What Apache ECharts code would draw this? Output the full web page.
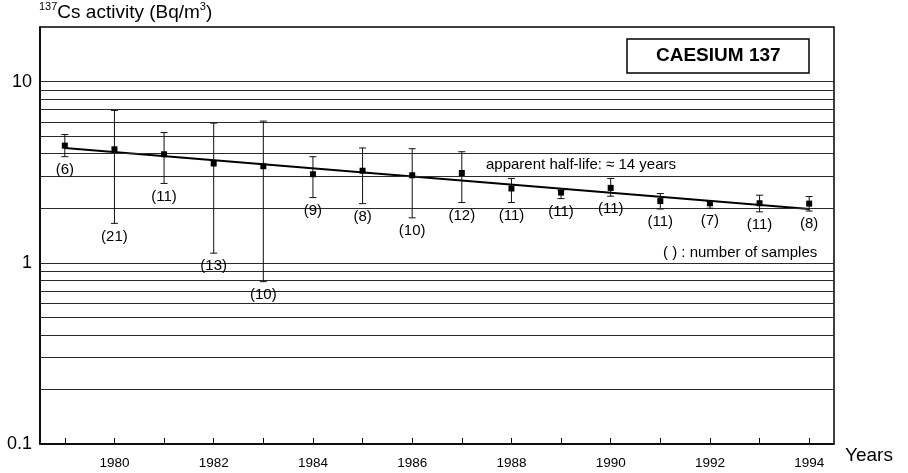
<!DOCTYPE html>
<html>
<head>
<meta charset="utf-8">
<script src="https://cdn.jsdelivr.net/npm/echarts@6/dist/echarts.min.js"></script>
<style>
html,body{margin:0;padding:0;background:#fff;}
#chart{width:908px;height:473px;}
</style>
</head>
<body>
<div id="chart"></div>
<script>
const years = ['1979','1980','1981','1982','1983','1984','1985','1986','1987','1988','1989','1990','1991','1992','1993','1994'];
const means = [4.43, 4.23, 3.97, 3.53, 3.41, 3.08, 3.22, 3.04, 3.13, 2.57, 2.44, 2.59, 2.19, 2.13, 2.13, 2.12];
const upper = [5.10, 6.93, 5.23, 5.90, 6.05, 3.85, 4.30, 4.26, 4.10, 2.92, 2.51, 2.92, 2.41, 2.19, 2.36, 2.32];
const lower = [3.85, 1.65, 2.74, 1.13, 0.787, 2.29, 2.12, 1.77, 2.15, 2.15, 2.26, 2.33, 1.98, 2.00, 1.91, 1.93];
const samples = [6, 21, 11, 13, 10, 9, 8, 10, 12, 11, 11, 11, 11, 7, 11, 8];
const trendYears = ['1979', '1994'];
const trendValues = [4.30, 1.98];
const gridValues = [0.2,0.3,0.4,0.5,0.6,0.7,0.8,0.9,1,2,3,4,5,6,7,8,9,10];

const FONT = '"Liberation Sans", Arial, Helvetica, sans-serif';
const chart = echarts.init(document.getElementById('chart'));

const errData = years.map((y, i) => [i, means[i], lower[i], upper[i], samples[i]]);

chart.setOption({
  backgroundColor: '#fff',
  animation: false,
  textStyle: {fontFamily: FONT, color: '#000'},
  title: [
    {
      text: '{sup|137}{n|Cs activity (Bq/m}{sup|3}{n|)}',
      left: 39, top: 1, padding: 0,
      textStyle: {
        fontWeight: 'normal',
        rich: {
          n: {fontSize: 19, fontFamily: FONT, fontWeight: 'normal', color: '#000', lineHeight: 24},
          sup: {fontSize: 11, fontFamily: FONT, fontWeight: 'normal', color: '#000', lineHeight: 14, verticalAlign: 'top'}
        }
      }
    },
    {
      text: 'CAESIUM 137',
      left: 627, top: 39,
      padding: [7, 29],
      borderColor: '#000', borderWidth: 1.5,
      backgroundColor: '#fff',
      textStyle: {fontSize: 19, fontWeight: 'bold', fontFamily: FONT, color: '#000', lineHeight: 20}
    }
  ],
  grid: {
    left: 40, right: 74, top: 27, bottom: 29,
    show: true, borderColor: '#000', borderWidth: 1.5, backgroundColor: 'transparent'
  },
  xAxis: {
    type: 'category',
    data: years,
    boundaryGap: true,
    name: 'Years',
    nameLocation: 'end',
    nameGap: 11,
    nameTextStyle: {fontSize: 19, fontFamily: FONT, color: '#000', verticalAlign: 'top', padding: [2, 0, 0, 0]},
    axisLine: {show: true, lineStyle: {color: '#000', width: 1.5}},
    axisTick: {show: true, inside: true, length: 6, alignWithLabel: true, interval: 0, lineStyle: {color: '#000'}},
    axisLabel: {
      interval: (idx) => idx % 2 === 1,
      fontSize: 13.5, fontFamily: FONT, color: '#000', margin: 12
    },
    splitLine: {show: false}
  },
  yAxis: {
    type: 'log',
    logBase: 10,
    min: 0.1, max: 20,
    axisLine: {show: true, lineStyle: {color: '#000', width: 1.5}},
    axisTick: {show: false},
    splitLine: {show: false},
    axisLabel: {
      showMaxLabel: false,
      fontSize: 18, fontFamily: FONT, color: '#000', margin: 8,
      formatter: (v) => (v < 0.5 ? '0.1' : (v < 5 ? '1' : (v < 15 ? '10' : '')))
    }
  },
  series: [
    {
      type: 'line',
      name: 'trend',
      data: trendYears.map((y, i) => [y, trendValues[i]]),
      symbol: 'none',
      lineStyle: {color: '#000', width: 2.2},
      z: 2,
      markLine: {
        silent: true,
        symbol: 'none',
        label: {show: false},
        lineStyle: {color: '#2a2a2a', width: 1.1, type: 'solid'},
        data: gridValues.map(v => ({yAxis: v})),
        animation: false
      }
    },
    {
      type: 'custom',
      name: 'activity',
      data: errData,
      encode: {x: 0, y: [1, 2, 3]},
      z: 5,
      renderItem: function (params, api) {
        const x = api.value(0);
        const m = api.coord([x, api.value(1)]);
        const lo = api.coord([x, api.value(2)]);
        const hi = api.coord([x, api.value(3)]);
        const n = api.value(4);
        const cap = 3.5;
        const st = {stroke: '#111', lineWidth: 1};
        return {
          type: 'group',
          children: [
            {type: 'line', shape: {x1: hi[0], y1: hi[1], x2: lo[0], y2: lo[1]}, style: st},
            {type: 'line', shape: {x1: hi[0] - cap, y1: hi[1], x2: hi[0] + cap, y2: hi[1]}, style: st},
            {type: 'line', shape: {x1: lo[0] - cap, y1: lo[1], x2: lo[0] + cap, y2: lo[1]}, style: st},
            {type: 'rect', shape: {x: m[0] - 3, y: m[1] - 3, width: 6, height: 6}, style: {fill: '#000'}},
            {type: 'text', style: {
              text: '(' + n + ')', x: lo[0], y: lo[1] + 13,
              align: 'center', verticalAlign: 'middle',
              fontSize: 15, fontFamily: FONT, fill: '#000'
            }}
          ]
        };
      }
    }
  ],
  graphic: [
    {type: 'text', left: 486, top: 157, z: 10,
     style: {text: 'apparent half-life: \u2248 14 years', fontSize: 15, fontFamily: FONT, fill: '#000'}},
    {type: 'text', left: 663, top: 245, z: 10,
     style: {text: '( ) : number of samples', fontSize: 15, fontFamily: FONT, fill: '#000'}}
  ]
});
</script>
</body>
</html>
